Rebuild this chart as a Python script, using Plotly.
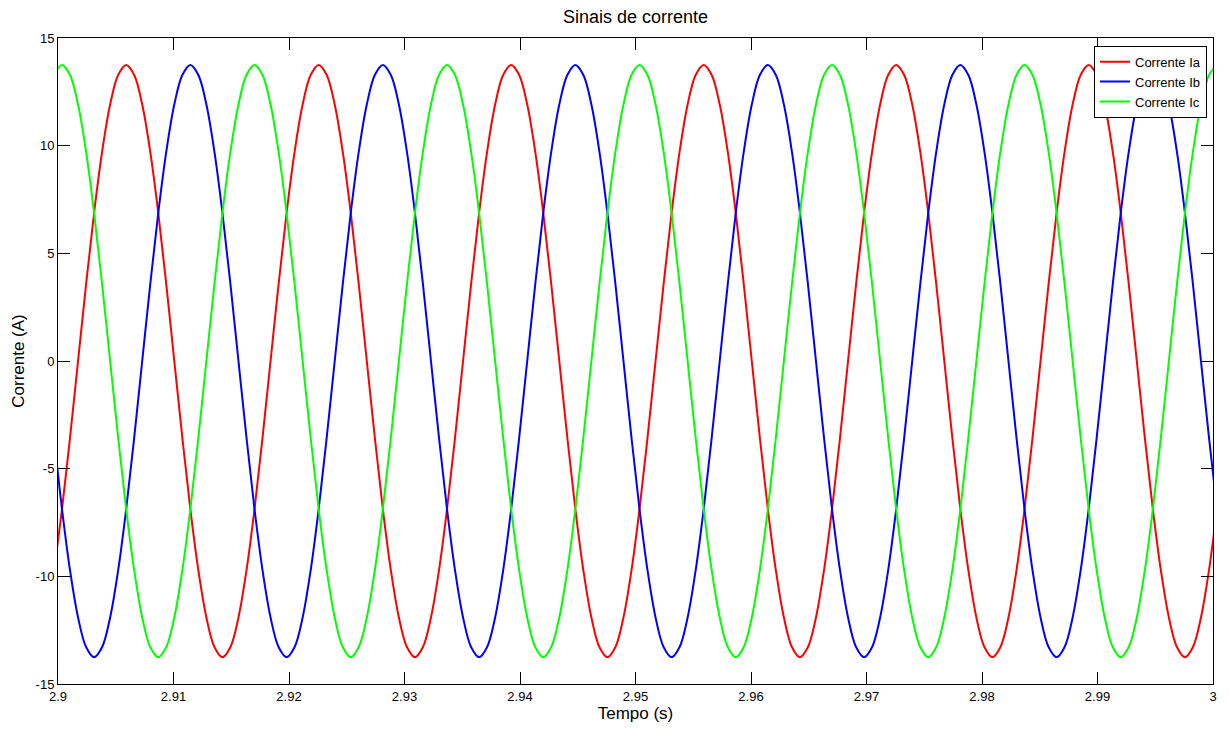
import numpy as np
import plotly.graph_objects as go

# ---- data (steady-state 60 Hz three-phase currents) ----
t_start = 2.899653          # first sample time (s)
sample_step = 0.000694444   # sampling interval (s), 15 electrical degrees

current_a = [
    -9.72, -6.875, -3.56, 0, 3.56, 6.875, 9.72, 11.91, 13.28, 13.75, 13.28, 11.91, 9.72, 6.875, 3.56, 0, -3.56, -6.875, -9.72, -11.91, -13.28, -13.75, -13.28, -11.91,
    -9.72, -6.875, -3.56, 0, 3.56, 6.875, 9.72, 11.91, 13.28, 13.75, 13.28, 11.91, 9.72, 6.875, 3.56, 0, -3.56, -6.875, -9.72, -11.91, -13.28, -13.75, -13.28, -11.91,
    -9.72, -6.875, -3.56, 0, 3.56, 6.875, 9.72, 11.91, 13.28, 13.75, 13.28, 11.91, 9.72, 6.875, 3.56, 0, -3.56, -6.875, -9.72, -11.91, -13.28, -13.75, -13.28, -11.91,
    -9.72, -6.875, -3.56, 0, 3.56, 6.875, 9.72, 11.91, 13.28, 13.75, 13.28, 11.91, 9.72, 6.875, 3.56, 0, -3.56, -6.875, -9.72, -11.91, -13.28, -13.75, -13.28, -11.91,
    -9.72, -6.875, -3.56, 0, 3.56, 6.875, 9.72, 11.91, 13.28, 13.75, 13.28, 11.91, 9.72, 6.875, 3.56, 0, -3.56, -6.875, -9.72, -11.91, -13.28, -13.75, -13.28, -11.91,
    -9.72, -6.875, -3.56, 0, 3.56, 6.875, 9.72, 11.91, 13.28, 13.75, 13.28, 11.91, 9.72, 6.875, 3.56, 0, -3.56, -6.875, -9.72, -11.91, -13.28, -13.75, -13.28, -11.91,
    -9.72, -6.875,
]

current_b = [
    -3.56, -6.875, -9.72, -11.91, -13.28, -13.75, -13.28, -11.91, -9.72, -6.875, -3.56, 0, 3.56, 6.875, 9.72, 11.91, 13.28, 13.75, 13.28, 11.91, 9.72, 6.875, 3.56, 0,
    -3.56, -6.875, -9.72, -11.91, -13.28, -13.75, -13.28, -11.91, -9.72, -6.875, -3.56, 0, 3.56, 6.875, 9.72, 11.91, 13.28, 13.75, 13.28, 11.91, 9.72, 6.875, 3.56, 0,
    -3.56, -6.875, -9.72, -11.91, -13.28, -13.75, -13.28, -11.91, -9.72, -6.875, -3.56, 0, 3.56, 6.875, 9.72, 11.91, 13.28, 13.75, 13.28, 11.91, 9.72, 6.875, 3.56, 0,
    -3.56, -6.875, -9.72, -11.91, -13.28, -13.75, -13.28, -11.91, -9.72, -6.875, -3.56, 0, 3.56, 6.875, 9.72, 11.91, 13.28, 13.75, 13.28, 11.91, 9.72, 6.875, 3.56, 0,
    -3.56, -6.875, -9.72, -11.91, -13.28, -13.75, -13.28, -11.91, -9.72, -6.875, -3.56, 0, 3.56, 6.875, 9.72, 11.91, 13.28, 13.75, 13.28, 11.91, 9.72, 6.875, 3.56, 0,
    -3.56, -6.875, -9.72, -11.91, -13.28, -13.75, -13.28, -11.91, -9.72, -6.875, -3.56, 0, 3.56, 6.875, 9.72, 11.91, 13.28, 13.75, 13.28, 11.91, 9.72, 6.875, 3.56, 0,
    -3.56, -6.875,
]

current_c = [
    13.28, 13.75, 13.28, 11.91, 9.72, 6.875, 3.56, 0, -3.56, -6.875, -9.72, -11.91, -13.28, -13.75, -13.28, -11.91, -9.72, -6.875, -3.56, 0, 3.56, 6.875, 9.72, 11.91,
    13.28, 13.75, 13.28, 11.91, 9.72, 6.875, 3.56, 0, -3.56, -6.875, -9.72, -11.91, -13.28, -13.75, -13.28, -11.91, -9.72, -6.875, -3.56, 0, 3.56, 6.875, 9.72, 11.91,
    13.28, 13.75, 13.28, 11.91, 9.72, 6.875, 3.56, 0, -3.56, -6.875, -9.72, -11.91, -13.28, -13.75, -13.28, -11.91, -9.72, -6.875, -3.56, 0, 3.56, 6.875, 9.72, 11.91,
    13.28, 13.75, 13.28, 11.91, 9.72, 6.875, 3.56, 0, -3.56, -6.875, -9.72, -11.91, -13.28, -13.75, -13.28, -11.91, -9.72, -6.875, -3.56, 0, 3.56, 6.875, 9.72, 11.91,
    13.28, 13.75, 13.28, 11.91, 9.72, 6.875, 3.56, 0, -3.56, -6.875, -9.72, -11.91, -13.28, -13.75, -13.28, -11.91, -9.72, -6.875, -3.56, 0, 3.56, 6.875, 9.72, 11.91,
    13.28, 13.75, 13.28, 11.91, 9.72, 6.875, 3.56, 0, -3.56, -6.875, -9.72, -11.91, -13.28, -13.75, -13.28, -11.91, -9.72, -6.875, -3.56, 0, 3.56, 6.875, 9.72, 11.91,
    13.28, 13.75,
]

series_names = ["Corrente Ia", "Corrente Ib", "Corrente Ic"]
series_colors = ["#ff0000", "#0000ff", "#00ff00"]

x_tick_vals = [2.9, 2.91, 2.92, 2.93, 2.94, 2.95, 2.96, 2.97, 2.98, 2.99, 3.0]
x_tick_text = ["2.9", "2.91", "2.92", "2.93", "2.94", "2.95", "2.96", "2.97", "2.98", "2.99", "3"]
y_tick_vals = [-15, -10, -5, 0, 5, 10, 15]
y_tick_text = ["-15", "-10", "-5", "0", "5", "10", "15"]

time = t_start + np.arange(len(current_a)) * sample_step

FONT = "Liberation Sans, Arial, Helvetica, sans-serif"

fig = go.Figure()
for name, color, vals in zip(series_names, series_colors, [current_a, current_b, current_c]):
    fig.add_trace(go.Scatter(
        x=time, y=vals, mode="lines", name=name,
        line=dict(color=color, width=2, shape="spline", smoothing=1.0),
    ))

axis_common = dict(
    showgrid=False, zeroline=False, showline=True, linecolor="black", linewidth=1,
    mirror="ticks", ticks="inside", ticklen=12, tickwidth=1, tickcolor="black",
    tickfont=dict(family=FONT, size=13, color="black"),
)

fig.update_xaxes(
    range=[2.9, 3.0], tickmode="array", tickvals=x_tick_vals, ticktext=x_tick_text,
    title=dict(text="Tempo (s)", font=dict(family=FONT, size=17, color="black"), standoff=4),
    **axis_common,
)
fig.update_yaxes(
    range=[-15, 15], tickmode="array", tickvals=y_tick_vals, ticktext=y_tick_text,
    title=dict(text="Corrente (A)", font=dict(family=FONT, size=17, color="black"), standoff=6),
    **axis_common,
)

fig.update_layout(
    width=1229, height=733,
    margin=dict(l=58, r=16, t=38, b=49, autoexpand=False),
    paper_bgcolor="white", plot_bgcolor="white",
    title=dict(text="Sinais de corrente", x=0.5, xref="paper", xanchor="center",
               y=1 - 17 / 733, yref="container", yanchor="middle",
               font=dict(family=FONT, size=18, color="black")),
    legend=dict(x=0.9948, y=0.988, xanchor="right", yanchor="top",
                bordercolor="black", borderwidth=1, bgcolor="white",
                font=dict(family=FONT, size=13, color="black"),
                tracegroupgap=0, itemwidth=30),
    showlegend=True,
)

fig.write_html("out.html", config={"displayModeBar": False},
               post_script="document.body.style.margin='0';document.body.style.padding='0';")
